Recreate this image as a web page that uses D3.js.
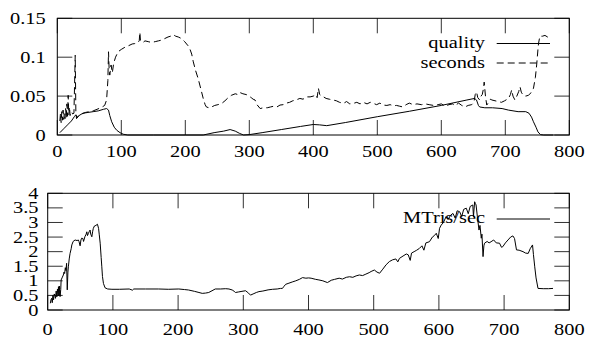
<!DOCTYPE html>
<html>
<head>
<meta charset="utf-8">
<script src="https://cdn.jsdelivr.net/npm/d3@7"></script>
<style>
  html, body { margin: 0; padding: 0; background: #fff; }
  svg { display: block; }
</style>
</head>
<body>
<div id="chart"></div>
<script>
// x ticks shared by both panels
const xTicks = [0, 100, 200, 300, 400, 500, 600, 700, 800];
const topTicks = [0, 0.05, 0.1, 0.15];
const topTickLabels = ['0', '0.05', '0.1', '0.15'];
const botTicks = [0, 0.5, 1, 1.5, 2, 2.5, 3, 3.5, 4];
const botTickLabels = ['0', '0.5', '1', '1.5', '2', '2.5', '3', '3.5', '4'];

// [frame, value]
const quality = [
  [4,0.003],[10,0.008],[16,0.013],[22,0.018],[27,0.024],[29,0.026],[31,0.022],[34,0.025],[40,0.028],
  [48,0.029],[56,0.030],[64,0.031],[72,0.033],[77,0.034],[80,0.032],[82,0.025],[85,0.017],[89,0.010],
  [93,0.006],[98,0.003],[103,0.001],[110,0],[150,0],[200,0],[228,0],[245,0.003],[260,0.005],[270,0.007],
  [278,0.005],[285,0.002],[291,0],[300,0.0005],[320,0.003],[350,0.007],[380,0.011],[400,0.0135],
  [410,0.013],[421,0.012],[450,0.016],[500,0.0235],[550,0.0305],[600,0.038],[640,0.045],[652,0.047],
  [655,0.045],[658,0.038],[660,0.036],[668,0.035],[680,0.035],[695,0.034],[705,0.032],[720,0.030],
  [732,0.030],[737,0.028],[741,0.023],[744,0.017],[748,0.010],[751,0.004],[755,0.0005],[760,0],[775,0]
];

const seconds = [
  [4,0.018],[5,0.028],[6,0.016],[7,0.03],[8,0.019],[9,0.032],[10,0.02],[11,0.028],[12,0.021],[13,0.034],
  [14,0.022],[15,0.04],[16,0.024],[17,0.051],[18,0.026],[19,0.036],[20,0.025],[22,0.03],[24,0.027],
  [26,0.028],[28,0.1025],[29,0.03],[30,0.021],[33,0.025],[38,0.027],[44,0.029],[50,0.030],[56,0.031],
  [62,0.033],[68,0.035],[74,0.038],[77,0.045],[79,0.07],[80,0.107],[81,0.085],[82,0.077],[84,0.09],
  [86,0.08],[88,0.092],[91,0.10],[95,0.107],[100,0.11],[106,0.113],[112,0.115],[117,0.117],[121,0.1175],
  [125,0.118],[128,0.121],[129,0.132],[130,0.121],[134,0.119],[137,0.121],[142,0.12],[147,0.119],
  [153,0.12],[158,0.121],[163,0.122],[168,0.124],[173,0.126],[177,0.127],[181,0.129],[185,0.127],
  [189,0.126],[194,0.124],[199,0.12],[204,0.115],[207,0.111],[210,0.104],[212.5,0.094],[216,0.083],
  [220,0.0727],[224,0.06],[228,0.047],[231,0.039],[233,0.036],[237,0.035],[241,0.036],[246,0.038],
  [251,0.039],[257,0.0406],[262,0.044],[267,0.048],[272,0.051],[278,0.053],[282,0.052],[285,0.0547],
  [290,0.053],[295,0.052],[298,0.051],[303,0.048],[306,0.046],[309,0.045],[312,0.039],[317,0.034],
  [322,0.035],[328,0.035],[333,0.036],[338,0.037],[343,0.036],[348,0.0385],[353,0.039],[358,0.041],
  [363,0.042],[368,0.044],[373,0.045],[379,0.047],[384,0.046],[389,0.049],[395,0.049],[400,0.05],
  [404,0.052],[406,0.048],[408,0.060],[410,0.052],[413,0.05],[416,0.049],[420,0.047],[425,0.046],
  [431,0.045],[436,0.044],[441,0.042],[447,0.0406],[452,0.043],[457,0.04],[462.5,0.0406],[468,0.042],
  [473,0.04],[478,0.042],[484,0.04],[489,0.042],[494,0.0406],[499,0.039],[504,0.041],[509,0.0385],
  [515,0.038],[520,0.039],[525,0.0376],[530,0.038],[535,0.037],[540,0.036],[545,0.039],[550,0.041],
  [556,0.039],[562,0.040],[569,0.039],[575,0.040],[581,0.039],[588,0.038],[595,0.039],[600,0.040],
  [606,0.037],[612,0.039],[618,0.040],[621,0.0376],[627,0.041],[632,0.038],[637,0.036],[642,0.038],
  [647.5,0.039],[651,0.042],[653,0.052],[655,0.0556],[657,0.048],[660,0.045],[662,0.05],[664,0.052],
  [666,0.06],[667,0.068],[669,0.05],[671,0.0385],[674,0.042],[677,0.046],[679,0.045],[684,0.044],
  [689,0.043],[694,0.042],[699,0.044],[703,0.046],[705,0.047],[708,0.052],[710,0.058],[712,0.05],
  [715,0.045],[718,0.05],[721,0.056],[723,0.062],[725,0.055],[728,0.051],[732,0.05],[736,0.051],
  [740,0.054],[744,0.060],[747,0.074],[749,0.09],[751,0.11],[752,0.118],[754,0.127],[758,0.127],
  [762,0.128],[766,0.126],[769,0.127],[772,0.127]
];

const mtris = [
  [4,0.23],[5,0.35],[6,0.40],[7,0.25],[8,0.5],[9,0.35],[10,0.55],[11,0.51],[12,0.4],[13,0.65],[14,0.45],
  [15,0.72],[16,0.48],[16.5,0.80],[17.5,0.5],[18,0.82],[19,0.46],[20,0.7],[20.6,1.03],[22,1.1],[24,1.2],
  [25,1.3],[26,1.25],[27,1.45],[28,1.35],[29,1.6],[30,0.69],[31,1.3],[31.7,1.48],[33,1.75],[34.3,1.94],
  [36,2.1],[37,2.23],[39,2.35],[42,2.40],[45,2.38],[47,2.40],[48,2.35],[49.7,2.2],[51,2.4],[52,2.46],
  [54,2.45],[55,2.35],[57,2.51],[59,2.6],[60,2.68],[61,2.55],[62.5,2.63],[64,2.7],[65,2.74],[66,2.6],
  [67.7,2.51],[69,2.7],[70,2.8],[71.7,2.88],[74,2.9],[76.3,2.94],[78,2.8],[79,2.6],[80.5,2.29],[82,1.8],
  [83,1.48],[84,1.15],[85.5,0.91],[88,0.76],[92,0.72],[98.5,0.71],[110,0.71],[125,0.72],[130,0.68],
  [132,0.72],[150,0.72],[170,0.72],[185,0.71],[201,0.72],[210,0.7],[216,0.686],[225,0.64],[232,0.6],
  [237,0.57],[242,0.58],[247,0.6],[252,0.66],[257,0.72],[265,0.72],[273,0.73],[278,0.72],[283,0.686],
  [286,0.64],[288,0.6],[293,0.62],[298,0.64],[303.5,0.66],[308,0.58],[311,0.51],[315,0.55],[320,0.6],
  [324,0.63],[330,0.65],[338,0.69],[345,0.71],[352,0.72],[357,0.74],[360,0.74],[362,0.8],[365,0.88],
  [370,0.92],[375,0.96],[380.5,1.0],[386,1.05],[390.8,1.11],[396,1.09],[400,1.1],[404,1.09],[411,1.05],
  [416,1.03],[422,1.0],[429,0.94],[435,1.02],[440,1.05],[447,1.09],[452,1.06],[458,1.12],[463,1.14],
  [468,1.12],[473,1.17],[478,1.2],[483,1.18],[488,1.23],[493,1.28],[496,1.32],[501,1.37],[505,1.3],
  [509,1.26],[514,1.4],[519,1.55],[524,1.66],[529,1.72],[534,1.75],[537,1.65],[539.5,1.77],[545,1.85],
  [550,1.92],[553,1.89],[556,1.7],[558,1.95],[562,2.0],[566,2.05],[570,2.11],[574,2.2],[577,2.05],
  [580,2.3],[585.5,2.34],[590,2.5],[593,2.55],[596,2.63],[599,2.45],[601,2.8],[603.5,2.91],[607,3.0],
  [611,3.2],[614,3.1],[618,3.25],[621.6,3.31],[625,3.15],[628,3.4],[631.8,3.37],[635,3.2],[638,3.45],
  [642,3.49],[645,3.3],[648,3.55],[652,3.6],[653,3.2],[654.8,3.71],[656,3.65],[657,3.6],[659,3.2],
  [661.5,2.74],[663,2.9],[665,2.46],[666,2.6],[667.7,1.83],[669,2.2],[670,2.29],[674,2.35],[677,2.3],
  [680,2.34],[684,2.4],[688,2.3],[693,2.29],[696,2.15],[698,2.17],[702,2.3],[706,2.4],[710,2.5],
  [713.5,2.54],[716,2.45],[719,2.06],[723,2.05],[729,2.0],[733,1.95],[737,1.94],[740,2.1],[743.6,2.23],
  [745,1.9],[747,1.48],[749,1.1],[752,0.74],[760,0.73],[768,0.73],[775,0.74]
];

const W = 589, H = 338;
const FONT = '"Liberation Serif", "Times New Roman", serif';
const TICK = 15;

const svg = d3.select('#chart').append('svg')
  .attr('width', W).attr('height', H)
  .attr('viewBox', `0 0 ${W} ${H}`);

// gnuplot-ish text: times, a bit stretched horizontally
function label(g, txt, x, y, anchor) {
  g.append('text')
    .text(txt)
    .attr('transform', `translate(${x},${y}) scale(1.2,1)`)
    .attr('text-anchor', anchor)
    .attr('font-family', FONT)
    .attr('font-size', '17px')
    .attr('fill', '#000');
}

function panel(box, yDomain, yTicks, yLabels, yLabelX, xLabelY) {
  const x = d3.scaleLinear().domain([0, 800]).range([box.left, box.right]);
  const y = d3.scaleLinear().domain(yDomain).range([box.bottom, box.top]);
  const g = svg.append('g');

  // inward ticks on all four sides
  const ticks = g.append('g').attr('stroke', '#333').attr('stroke-width', 1);
  xTicks.forEach(t => {
    ticks.append('line').attr('x1', x(t)).attr('x2', x(t)).attr('y1', box.bottom).attr('y2', box.bottom - TICK);
    ticks.append('line').attr('x1', x(t)).attr('x2', x(t)).attr('y1', box.top).attr('y2', box.top + TICK);
  });
  yTicks.forEach(t => {
    ticks.append('line').attr('x1', box.left).attr('x2', box.left + TICK).attr('y1', y(t)).attr('y2', y(t));
    ticks.append('line').attr('x1', box.right).attr('x2', box.right - TICK).attr('y1', y(t)).attr('y2', y(t));
  });

  g.append('rect')
    .attr('x', box.left).attr('y', box.top)
    .attr('width', box.right - box.left).attr('height', box.bottom - box.top)
    .attr('fill', 'none').attr('stroke', '#000').attr('stroke-width', 1);

  xTicks.forEach(t => label(g, String(t), x(t), xLabelY, 'middle'));
  yTicks.forEach((t, i) => label(g, yLabels[i], yLabelX, y(t) + 5.5, 'end'));

  return { g, x, y };
}

function drawSeries(p, data, dash) {
  const line = d3.line()
    .x(d => p.x(d[0]))
    .y(d => p.y(d[1]));
  p.g.append('path')
    .datum(data)
    .attr('d', line)
    .attr('fill', 'none')
    .attr('stroke', '#000')
    .attr('stroke-width', 1)
    .attr('stroke-linejoin', 'round')
    .attr('stroke-dasharray', dash || null);
}

function legendRow(p, txt, yText, yLine, dash) {
  label(p.g, txt, 485, yText, 'end');
  p.g.append('line')
    .attr('x1', 496.7).attr('x2', 550)
    .attr('y1', yLine).attr('y2', yLine)
    .attr('stroke', '#000').attr('stroke-width', 1)
    .attr('stroke-dasharray', dash || null);
}

// top panel
const topPanel = panel({ left: 57.3, right: 569.3, top: 18.3, bottom: 135 },
  [0, 0.15], topTicks, topTickLabels, 45.7, 156.5);
legendRow(topPanel, 'quality', 48, 43.5);
legendRow(topPanel, 'seconds', 67.5, 63, '7,4');
drawSeries(topPanel, quality);
drawSeries(topPanel, seconds, '7,4');

// bottom panel
const botPanel = panel({ left: 47.7, right: 569.3, top: 193.3, bottom: 310 },
  [0, 4], botTicks, botTickLabels, 38.5, 334.5);
legendRow(botPanel, 'MTris/sec', 223, 219);
drawSeries(botPanel, mtris);
</script>
</body>
</html>
